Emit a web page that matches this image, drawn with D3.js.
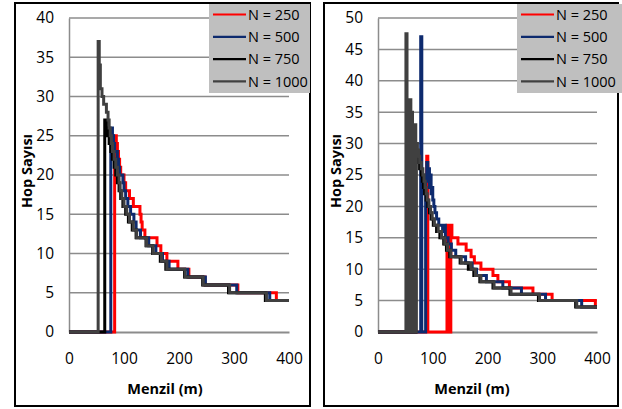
<!DOCTYPE html>
<html>
<head>
<meta charset="utf-8">
<script src="https://cdn.jsdelivr.net/npm/d3@7"></script>
<style>
  body { margin: 0; background: #fff; }
  svg text { font-family: "Open Sans", "Liberation Sans", sans-serif; fill: #000; }
</style>
</head>
<body>
<div id="chart"></div>
<script>
const W = 622, H = 409;

// series labels and colours
const seriesNames = ["N = 250", "N = 500", "N = 750", "N = 1000"];
const seriesColors = ["#ff0000", "#0d2a6e", "#000000", "#404040"];

const xTicks = [0, 100, 200, 300, 400];
const yTicksLeft = [0, 5, 10, 15, 20, 25, 30, 35, 40];
const yTicksRight = [0, 5, 10, 15, 20, 25, 30, 35, 40, 45, 50];

// left chart, [menzil, hop] step points
const left250 = [[0,0],[83,0],[83,25],[86,24],[88,23],[90,22],[92,21],[94,20],[100,19],[103,18],[110,17],[117,16],[129,15],[131,14],[133,13],[138,12],[160,11],[167,10],[178,9],[198,8],[218,7],[247,6],[307,5],[377,4],[400,4]];
const left500 = [[0,0],[76,0],[76,26],[79,25],[81,24],[83,23],[88,22],[90,21],[92,20],[98,19],[100,18],[103,17],[107,16],[112,15],[118,14],[122,13],[130,12],[145,11],[158,10],[170,9],[182,8],[216,7],[248,6],[305,5],[365,4],[400,4]];
const left750 = [[0,0],[65,0],[65,27],[68,26],[70,25],[73,24],[76,23],[79,22],[82,21],[85,20],[88,19],[91,18],[94,17],[98,16],[103,15],[108,14],[115,13],[122,12],[140,11],[152,10],[166,9],[176,8],[210,7],[243,6],[290,5],[357,4],[400,4]];
const left1000 = [[0,0],[53,0],[53,37],[55,34],[57,31],[60,30],[63,29],[68,28],[71,27],[73,26],[75,25],[77,24],[79,23],[82,22],[85,21],[88,20],[91,19],[93,18],[96,17],[100,16],[105,15],[110,14],[117,13],[123,12],[141,11],[153,10],[168,9],[178,8],[211,7],[244,6],[292,5],[359,4],[400,4]];

// right chart
const right250 = [[0,0],[89,0],[89,28],[91,0],[126,0],[126,17],[128,0],[130,17],[132,0],[133,17],[135,15],[146,14],[161,13],[170,12],[176,11],[188,10],[210,9],[219,8],[240,7],[283,6],[318,5],[397,4],[400,4]];
const right500 = [[0,0],[78,0],[78,47],[80,0],[87,0],[87,25],[89,27],[91,24],[92,26],[94,23],[95,25],[97,22],[99,23],[100,21],[102,20],[104,19],[107,18],[111,17],[118,16],[121,17],[123,15],[128,14],[134,13],[142,12],[160,11],[172,10],[180,9],[198,8],[228,7],[262,6],[306,5],[372,4],[400,4]];
const right750 = [[0,0],[66,0],[66,29],[68,0],[69,29],[71,28],[73,27],[76,26],[79,25],[81,24],[83,23],[85,22],[88,21],[91,20],[94,19],[97,18],[101,17],[107,16],[113,15],[120,14],[125,13],[131,12],[150,11],[165,10],[175,9],[186,8],[210,7],[241,6],[293,5],[361,4],[400,4]];
const right1000 = [[0,0],[50,0],[51,47.5],[53,0],[55,37],[57,0],[58,37],[60,0],[61,35],[63,0],[64,33],[66,0],[67,33],[69,0],[70,30],[72,29],[74,28],[76,27],[79,26],[82,25],[84,24],[86,23],[88,22],[90,21],[93,20],[96,19],[99,18],[103,17],[110,16],[116,15],[122,14],[127,13],[133,12],[152,11],[170,10],[178,9],[188,8],[212,7],[243,6],[295,5],[363,4],[400,4]];

const svg = d3.select("#chart").append("svg")
  .attr("width", W)
  .attr("height", H);

const panels = [
  { frame: [15, 3, 295, 403], plot: [69, 289], yMax: 40, yTicks: yTicksLeft,
    series: [left250, left500, left750, left1000], legendX: 209, legendW: 101, titleX: 165, yTitleX: 32 },
  { frame: [324, 3, 294, 403], plot: [378, 597], yMax: 50, yTicks: yTicksRight,
    series: [right250, right500, right750, right1000], legendX: 517, legendW: 105, titleX: 472, yTitleX: 341 }
];

panels.forEach(function(p) {
  const g = svg.append("g");
  const x = d3.scaleLinear().domain([0, 400]).range(p.plot);
  const y = d3.scaleLinear().domain([0, p.yMax]).range([332, 18]);

  // frame
  g.append("rect")
    .attr("x", p.frame[0]).attr("y", p.frame[1])
    .attr("width", p.frame[2]).attr("height", p.frame[3])
    .attr("fill", "#fff").attr("stroke", "#000").attr("stroke-width", 2);

  // gridlines
  g.selectAll(".grid")
    .data(p.yTicks.filter(d => d > 0))
    .join("line")
      .attr("x1", p.plot[0]).attr("x2", p.plot[1])
      .attr("y1", d => y(d)).attr("y2", d => y(d))
      .attr("stroke", "#8c8c8c").attr("stroke-width", 1.5);

  // y axis
  const yAxis = g.append("g")
    .attr("transform", "translate(" + p.plot[0] + ",0)")
    .call(d3.axisLeft(y).tickValues(p.yTicks).tickSize(0).tickPadding(15));
  yAxis.select(".domain").attr("stroke", "#8c8c8c").attr("stroke-width", 1.5);
  yAxis.selectAll("text").style("font-size", "15.5px").attr("fill", "#000");

  // x axis
  const xAxis = g.append("g")
    .attr("transform", "translate(0,332)")
    .call(d3.axisBottom(x).tickValues(xTicks).tickSize(0).tickPadding(21));
  xAxis.select(".domain").attr("stroke", "#8c8c8c").attr("stroke-width", 2);
  xAxis.selectAll("text").style("font-size", "15.5px").attr("fill", "#000");

  // axis titles
  g.append("text")
    .attr("x", p.titleX).attr("y", 394)
    .attr("text-anchor", "middle")
    .style("font-size", "14.5px").style("font-weight", "bold")
    .text("Menzil (m)");
  g.append("text")
    .attr("transform", "translate(" + p.yTitleX + ",171) rotate(-90)")
    .attr("text-anchor", "middle")
    .style("font-size", "14.5px").style("font-weight", "bold")
    .text("Hop Sayısı");

  // lines
  const line = d3.line()
    .x(d => x(d[0]))
    .y(d => y(d[1]))
    .curve(d3.curveStepAfter);

  g.selectAll(".series")
    .data(p.series)
    .join("path")
      .attr("d", line)
      .attr("fill", "none")
      .attr("stroke", (d, i) => seriesColors[i])
      .attr("stroke-width", 3)
      .attr("stroke-linejoin", "miter");

  // legend
  const lg = g.append("g").attr("transform", "translate(" + p.legendX + ",4)");
  lg.append("rect")
    .attr("width", p.legendW).attr("height", 89)
    .attr("fill", "#bfbfbf");
  const row = lg.selectAll(".row")
    .data(seriesNames)
    .join("g")
      .attr("transform", (d, i) => "translate(0," + (10.5 + i * 22.3) + ")");
  row.append("line")
    .attr("x1", 4).attr("x2", 37)
    .attr("stroke", (d, i) => seriesColors[i])
    .attr("stroke-width", 2.2);
  row.append("text")
    .attr("x", 39).attr("dy", "0.36em")
    .style("font-size", "14.5px")
    .text(d => d);
});
</script>
</body>
</html>
